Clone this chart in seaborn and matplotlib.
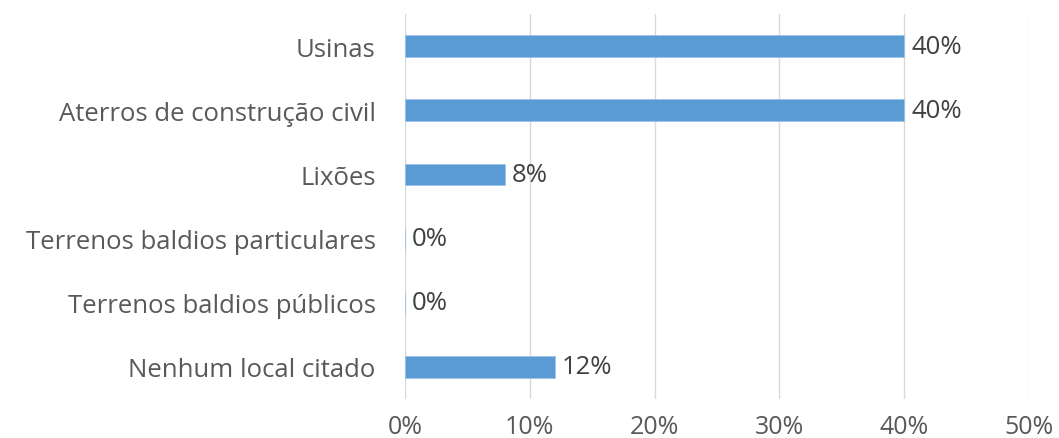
import matplotlib
matplotlib.use("Agg")
import matplotlib.pyplot as plt
import seaborn as sns
import pandas as pd
from matplotlib.ticker import FuncFormatter

categories = ["Usinas", "Aterros de construção civil", "Lixões",
              "Terrenos baldios particulares", "Terrenos baldios públicos",
              "Nenhum local citado"]
values = [40, 40, 8, 0, 0, 12]
xticks = [0, 10, 20, 30, 40, 50]

df = pd.DataFrame({"cat": categories, "val": values})

sns.set_theme(style="white")
plt.rcParams['font.family'] = ['Open Sans', 'DejaVu Sans']

fig = plt.figure(figsize=(10.59, 4.39), dpi=100)
ax = fig.add_axes([405/1059, 1 - 400/439, 624/1059, 385/439])

sns.barplot(data=df, x="val", y="cat", orient="h", color="#5B9BD5",
            saturation=1, width=0.34, ax=ax, edgecolor="#9DC3E6", linewidth=0.6)

ax.set_xlim(0, 50)
ax.set_xticks(xticks)
ax.xaxis.set_major_formatter(FuncFormatter(lambda v, p: f"{int(v)}%"))
ax.grid(axis="x", color="#D9D9D9", linewidth=1)
ax.set_axisbelow(True)
for s in ax.spines.values():
    s.set_visible(False)
ax.tick_params(axis="both", length=0, labelsize=18.5, labelcolor="#595959")
ax.tick_params(axis="x", pad=11, labelsize=18)
ax.tick_params(axis="y", pad=21)
ax.set_xlabel("")
ax.set_ylabel("")

for i, v in enumerate(values):
    ax.annotate(f"{v}%", xy=(v, i), xytext=(5, 0), textcoords="offset points",
                va="center", ha="left", fontsize=18.5, color="#404040")

fig.savefig("out.png", dpi=100)
